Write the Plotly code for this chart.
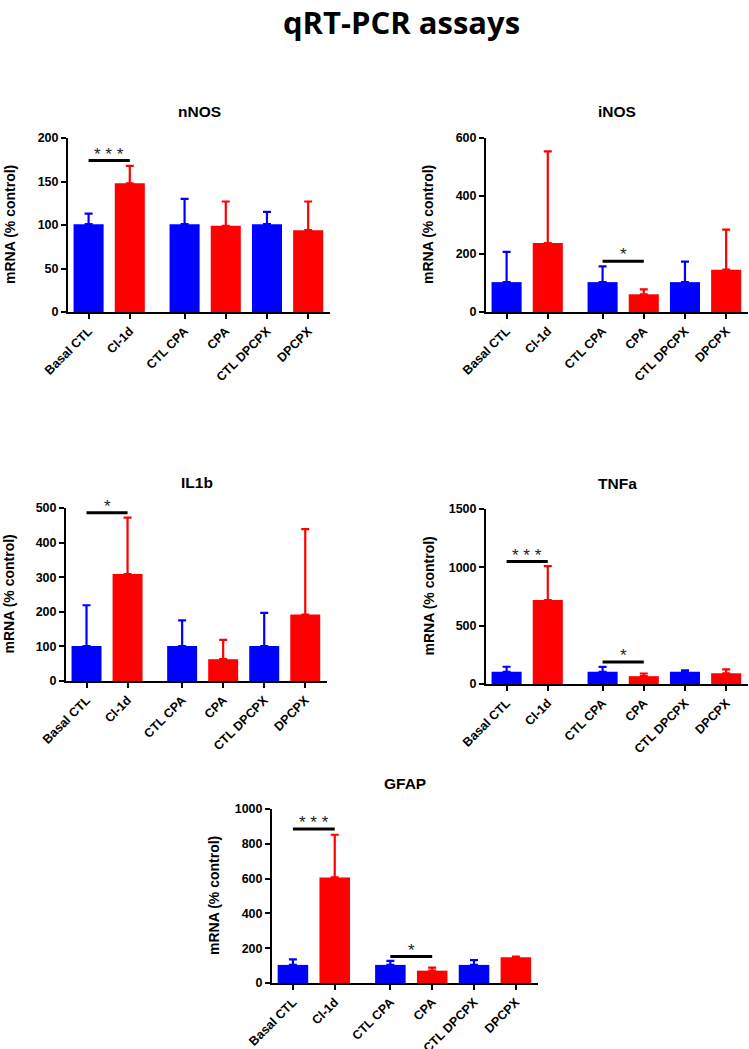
import plotly.graph_objects as go

W, H = 749, 1049

categories = ["Basal CTL", "Cl-1d", "CTL CPA", "CPA", "CTL DPCPX", "DPCPX"]
is_treated = [False, True, False, True, False, True]

# mean values (% control) and top of error bar (mean + SEM)
nNOS_mean = [101, 148, 101, 99, 101, 94]
nNOS_top = [113, 168, 130, 127, 115, 127]
iNOS_mean = [103, 238, 103, 61, 103, 146]
iNOS_top = [207, 554, 157, 78, 174, 284]
IL1b_mean = [101, 309, 101, 63, 101, 192]
IL1b_top = [219, 472, 175, 119, 197, 439]
TNFa_mean = [105, 720, 105, 67, 105, 92]
TNFa_top = [148, 1010, 147, 90, 116, 126]
GFAP_mean = [104, 607, 104, 71, 104, 148]
GFAP_top = [136, 852, 127, 88, 132, 152]

# significance marks: (i, j, height, label)
nNOS_sig = [(0, 1, 174, "* * *")]
iNOS_sig = [(2, 3, 175, "*")]
IL1b_sig = [(0, 1, 486, "*")]
TNFa_sig = [(0, 1, 1049, "* * *"), (2, 3, 188, "*")]
GFAP_sig = [(0, 1, 885, "* * *"), (2, 3, 152, "*")]

ymax = {"nNOS": 200, "iNOS": 600, "IL1b": 500, "TNFa": 1500, "GFAP": 1000}
ystep = {"nNOS": 50, "iNOS": 200, "IL1b": 100, "TNFa": 500, "GFAP": 200}

panels = [
    ("nNOS", nNOS_mean, nNOS_top, nNOS_sig, (68, 330), (138, 312)),
    ("iNOS", iNOS_mean, iNOS_top, iNOS_sig, (486, 748), (138, 312)),
    ("IL1b", IL1b_mean, IL1b_top, IL1b_sig, (66, 327), (508, 681)),
    ("TNFa", TNFa_mean, TNFa_top, TNFa_sig, (486, 748), (509, 684)),
    ("GFAP", GFAP_mean, GFAP_top, GFAP_sig, (272, 538), (809, 983)),
]

# x positions: extra gap after the first pair
GAP = 0.33
xpos = [i + (GAP if i >= 2 else 0) for i in range(len(categories))]

BLUE = "#0000FF"
RED = "#FF0000"
FONT = "Liberation Sans, Arial, sans-serif"

fig = go.Figure()
layout = {}
annotations = []
shapes = []

for k, (name, mean, top, sig, (px0, px1), (py0, py1)) in enumerate(panels):
    idx = "" if k == 0 else str(k + 1)
    xa, ya = "x" + idx, "y" + idx
    for treated, color in [(False, BLUE), (True, RED)]:
        sel = [i for i in range(len(categories)) if is_treated[i] == treated]
        fig.add_trace(go.Bar(
            x=[xpos[i] for i in sel],
            y=[mean[i] for i in sel],
            marker=dict(color=color, line=dict(width=0)),
            width=0.73,
            error_y=dict(type="data", symmetric=False,
                         array=[top[i] - mean[i] for i in sel],
                         arrayminus=[0] * len(sel),
                         color=color, thickness=2.2, width=4),
            xaxis=xa, yaxis=ya, showlegend=False, hoverinfo="skip",
        ))
    layout["xaxis" + idx] = dict(
        domain=[px0 / W, px1 / W], anchor=ya, automargin=False,
        range=[-0.5, 5.86], tickmode="array", tickvals=xpos, ticktext=categories,
        tickangle=-45, ticks="outside", ticklen=5, tickwidth=2, tickcolor="black",
        showline=True, linewidth=2, linecolor="black", showgrid=False, zeroline=False,
        tickfont=dict(family=FONT, size=12.5, color="black", weight="bold"),
        fixedrange=True,
    )
    layout["yaxis" + idx] = dict(
        domain=[1 - py1 / H, 1 - py0 / H], anchor=xa, automargin=False,
        range=[0, ymax[name]], dtick=ystep[name], tick0=0,
        ticks="outside", ticklen=5, tickwidth=2, tickcolor="black",
        showline=True, linewidth=2, linecolor="black", showgrid=False, zeroline=False,
        tickfont=dict(family=FONT, size=12.5, color="black", weight="bold"),
        fixedrange=True,
    )
    # panel title
    annotations.append(dict(
        text="<b>%s</b>" % name, xref=xa + " domain", yref=ya + " domain",
        x=0.5, y=1, yshift=26, xanchor="center", yanchor="middle", showarrow=False,
        font=dict(family=FONT, size=15.5, color="black"),
    ))
    # y axis title
    annotations.append(dict(
        text="<b>mRNA (% control)</b>", xref=xa + " domain", yref=ya + " domain",
        x=0, y=0.5, xshift=-58, xanchor="center", yanchor="middle", textangle=-90,
        showarrow=False, font=dict(family=FONT, size=14, color="black"),
    ))
    for (i, j, h, lab) in sig:
        shapes.append(dict(type="line", xref=xa, yref=ya,
                           x0=xpos[i], x1=xpos[j], y0=h, y1=h,
                           line=dict(color="black", width=3)))
        annotations.append(dict(
            text=lab, xref=xa, yref=ya, x=(xpos[i] + xpos[j]) / 2, y=h,
            xanchor="center", yanchor="bottom", yshift=-5, showarrow=False,
            font=dict(family=FONT, size=17, color="#222222"),
        ))

annotations.append(dict(
    text="<b>qRT-PCR assays</b>", xref="paper", yref="paper",
    x=401 / W, y=1, yshift=1, xanchor="center", yanchor="top", showarrow=False,
    font=dict(family="Open Sans, DejaVu Sans, sans-serif", size=31, color="black"),
))

fig.update_layout(
    width=W, height=H, margin=dict(l=0, r=0, t=0, b=0),
    paper_bgcolor="white", plot_bgcolor="white",
    barmode="overlay", annotations=annotations, shapes=shapes,
    **layout,
)

fig.write_html(
    "out.html",
    config={"displayModeBar": False},
    post_script="document.body.style.margin='0';document.body.style.overflow='hidden';",
)
